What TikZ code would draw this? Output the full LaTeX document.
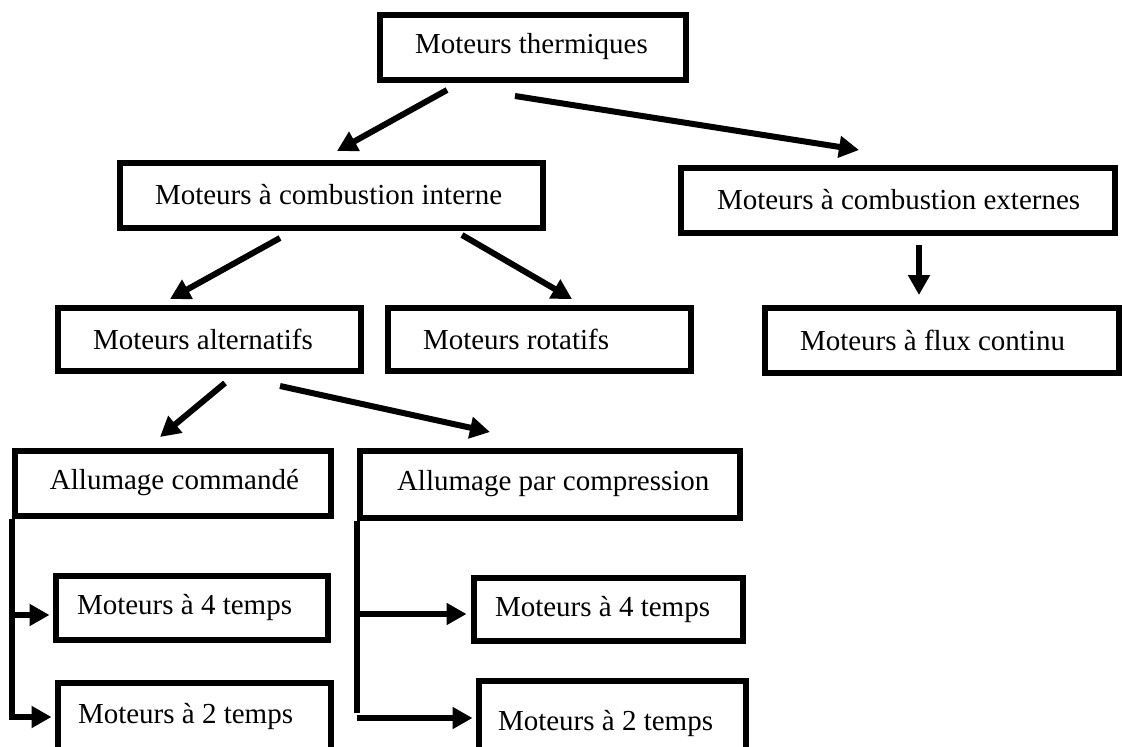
\documentclass[tikz,border=0pt]{standalone}
\usepackage{fontspec}
\setmainfont{Liberation Serif}
\usetikzlibrary{arrows.meta,calc}
\tikzset{
  box/.style={draw, line width=6pt, inner xsep=0pt, inner ysep=0pt, font=\fontsize{29}{34}\selectfont},
  arr/.style={line width=6pt, -{Triangle[length=20pt,width=21pt]}},
  link/.style={line width=6pt},
}
\newcommand{\boxtext}[3]{\makebox[#1pt][l]{\hspace*{#2pt}#3}}
\begin{document}
\begin{tikzpicture}[x=1pt,y=-1pt]
\useasboundingbox (0,0) rectangle (1122,747);
\clip (0,0) rectangle (1122,747);
\fill[white] (0,0) rectangle (1122,747);

% boxes
\node[box, minimum height=65pt] (therm) at (532.5,47) {\boxtext{306}{35.5}{Moteurs thermiques}};
\node[box, minimum height=65pt] (interne) at (331,195) {\boxtext{423}{35.5}{Moteurs à combustion interne}};
\node[box, minimum height=65pt] (externe) at (897.5,200) {\boxtext{434}{36.5}{Moteurs à combustion externes}};
\node[box, minimum height=63pt] (alt) at (209,339) {\boxtext{303}{35.5}{Moteurs alternatifs}};
\node[box, minimum height=63pt] (rot) at (539,339) {\boxtext{303}{35.5}{Moteurs rotatifs}};
\node[box, minimum height=65pt] (flux) at (941.5,340) {\boxtext{354}{35.5}{Moteurs à flux continu}};
\node[box, minimum height=65pt] (cmd) at (172.5,483) {\boxtext{316}{35.5}{Allumage commandé}};
\node[box, minimum height=67pt] (comp) at (549.5,484) {\boxtext{380}{37.5}{Allumage par compression}};
\node[box, minimum height=64pt] (lq) at (191.5,607.5) {\boxtext{272}{21.5}{Moteurs à 4 temps}};
\node[box, minimum height=67pt] (ld) at (194,716) {\boxtext{273}{20.5}{Moteurs à 2 temps}};
\node[box, minimum height=63pt] (rq) at (608,609) {\boxtext{269}{21.5}{Moteurs à 4 temps}};
\node[box, minimum height=85pt] (rd) at (612,723) {\boxtext{267}{19.5}{Moteurs à 2 temps}};

% connector ends
\coordinate (a1) at ([shift={(70.5,7.5)}]therm.south west);
\coordinate (b1) at ([shift={(220.5,-8.5)}]interne.north west);
\coordinate (a2) at ([shift={(138.5,13.5)}]therm.south west);
\coordinate (b2) at ([shift={(181.5,-14.5)}]externe.north west);
\coordinate (a3) at ([shift={(163.5,7.5)}]interne.south west);
\coordinate (b3) at ([shift={(115.5,-5.5)}]alt.north west);
\coordinate (a4) at ([shift={(345.5,4.5)}]interne.south west);
\coordinate (b4) at ([shift={(187.5,-5.5)}]rot.north west);
\coordinate (a5) at ([shift={(241.5,9.5)}]externe.south west);
\coordinate (b5) at ([shift={(157.5,-9.5)}]flux.north west);
\coordinate (a6) at ([shift={(170.5,9.5)}]alt.south west);
\coordinate (b6) at ([shift={(148.5,-10.5)}]cmd.north west);
\coordinate (a7) at ([shift={(225.5,12.5)}]alt.south west);
\coordinate (b7) at ([shift={(133.5,-15.5)}]comp.north west);
\coordinate (t1) at ([shift={(-3,7.5)}]lq.west);
\coordinate (t2) at ([shift={(-3,1)}]ld.west);
\coordinate (t3) at ([shift={(-4,5)}]rq.west);
\coordinate (t4) at ([shift={(-3,-5)}]rd.west);

% arrows
\draw[arr] (a1) -- (b1);
\draw[arr] (a2) -- (b2);
\draw[arr] (a3) -- (b3);
\draw[arr] (a4) -- (b4);
\draw[arr] (a5) -- (b5);
\draw[arr] (a6) -- (b6);
\draw[arr] (a7) -- (b7);

% brackets
\draw[arr] (cmd.south west) -- (cmd.south west |- t2) -- (t2);
\draw[arr] (cmd.south west |- t1) -- (t1);
\draw[link] (comp.south west) -- ([yshift=5]comp.south west |- t4);
\draw[arr] (comp.south west |- t4) -- (t4);
\draw[arr] (comp.south west |- t3) -- (t3);
\end{tikzpicture}
\end{document}
